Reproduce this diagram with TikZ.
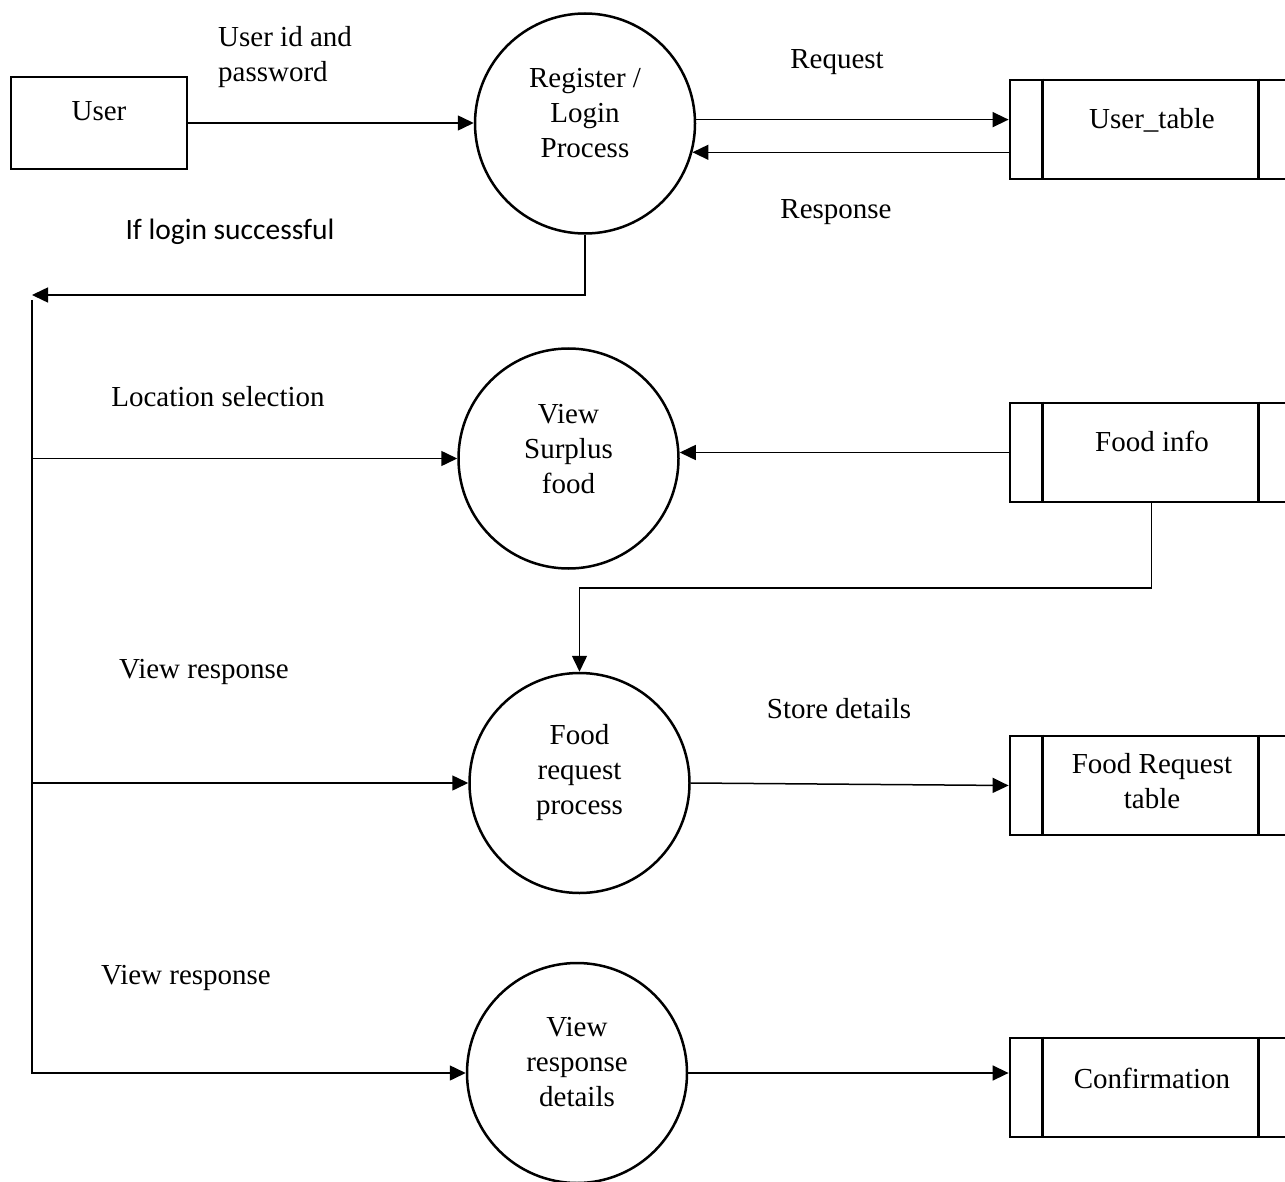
\documentclass[tikz,border=0pt]{standalone}
\usepackage{fontspec}
\setmainfont{Liberation Serif}
\newfontfamily\calfont{Carlito}
\usetikzlibrary{arrows.meta}
\begin{document}
\begin{tikzpicture}[x=1pt,y=-1pt,
  txt/.style={font=\fontsize{29}{35}\selectfont, inner sep=0pt, align=center},
  proc/.style={circle, draw, line width=2.5pt, minimum size=220pt, inner sep=0pt},
  entity/.style={rectangle, draw, line width=2.8pt, minimum width=176pt, minimum height=92pt, inner sep=0pt},
  store/.style={rectangle, draw, line width=2.8pt, minimum width=283pt, minimum height=99pt, inner sep=0pt},
  flow/.style={line width=1.5pt, -{Triangle[length=16pt,width=15pt]}},
  plainline/.style={line width=1.5pt}]
\useasboundingbox (0,0) rectangle (1285,1182);
\fill[white] (0,0) rectangle (1285,1182);

% external entity
\node[entity] (user) at (99,123) {};
\node[txt] (userT) at (99,111) {User};

% processes
\node[proc] (reg) at (585,123.5) {};
\node[txt] (regT) at (585,113) {Register /\\Login\\Process};
\node[proc] (vsf) at (568.5,458.5) {};
\node[txt] (vsfT) at (568.5,449) {View\\Surplus\\food};
\node[proc] (frp) at (579.5,783) {};
\node[txt] (frpT) at (579.5,773) {Food\\request\\process};
\node[proc] (vrd) at (577,1073) {};
\node[txt] (vrdT) at (577,1062) {View\\response\\details};

% data stores
\node[store] (utab) at (1151.5,129.5) {};
\node[txt] (utabT) at (1152,120) {User\_table};
\node[store] (finfo) at (1151.5,452.5) {};
\node[txt] (finfoT) at (1152,441) {Food info};
\node[store] (freq) at (1151.5,785.5) {};
\node[txt] (freqT) at (1152,781) {Food Request\\table};
\node[store] (conf) at (1151.5,1087.5) {};
\node[txt] (confT) at (1152,1078) {Confirmation};
\foreach \s in {utab,finfo,freq,conf}{
  \draw[line width=2.5pt] ([xshift=34pt]\s.north west) -- ([xshift=34pt]\s.south west);
  \draw[line width=2.5pt] ([xshift=-36pt]\s.north east) -- ([xshift=-36pt]\s.south east);
}

% labels
\node[txt, align=left, anchor=west] (lblUid) at (218,57.5) {User id and\\password};
\node[txt] (lblReq) at (837,62) {Request};
\node[txt] (lblResp) at (836,212) {Response};
\node[txt, font=\calfont\fontsize{29.5}{34}\selectfont] (lblIf) at (230,232) {If login successful};
\node[txt] (lblLoc) at (218,397) {Location selection};
\node[txt] (lblVr1) at (204,672) {View response};
\node[txt] (lblStore) at (839,709) {Store details};
\node[txt] (lblVr2) at (186,978) {View response};

% connectors
\draw[flow] (user.east) -- (user.east -| reg.west);
\draw[flow] (reg.2) -- (reg.2 -| utab.west);
\draw[flow] (reg.-15 -| utab.west) -- (reg.-15);
\coordinate (busA) at (32,295);
\draw[flow] (reg.south) |- (busA);
\coordinate (busTop) at (32,300);
\draw[flow] (busTop) |- (vrd.west);
\draw[flow] (busTop |- vsf.west) -- (vsf.west);
\draw[flow] (busTop |- frp.west) -- (frp.west);
\draw[flow] (finfo.west) -- (vsf.east |- finfo.west);
\coordinate (jog) at (0,588);
\draw[flow] (finfo.south) |- (frp.north |- jog) -- (frp.north);
\draw[flow] (frp.east) -- (freq.west);
\draw[flow] (vrd.east) -- (vrd.east -| conf.west);
\end{tikzpicture}
\end{document}
